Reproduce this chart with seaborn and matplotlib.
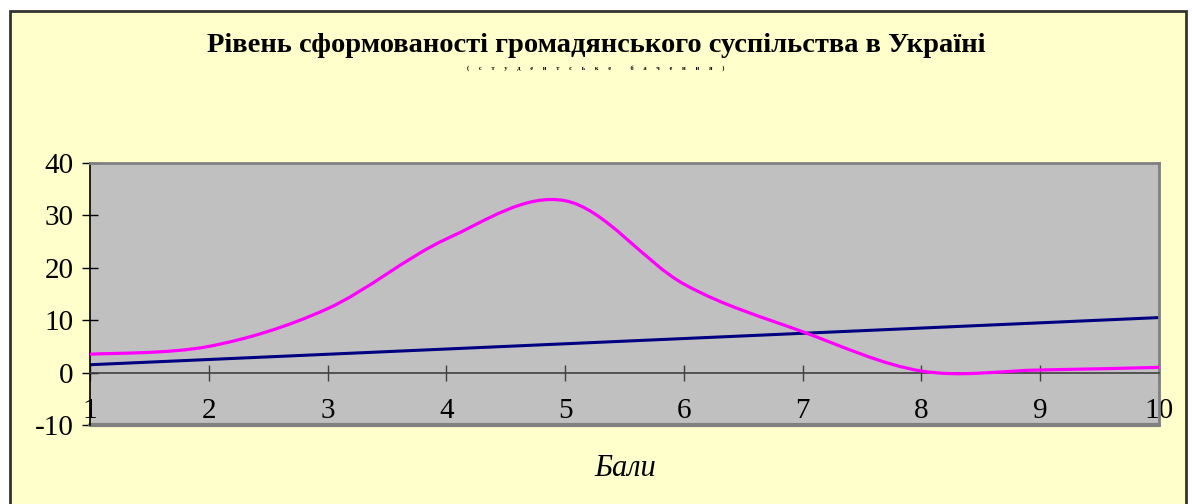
import numpy as np
import pandas as pd
import seaborn as sns
import matplotlib.pyplot as plt
from matplotlib.path import Path
from matplotlib.patches import PathPatch, Rectangle

# data
bali = [1, 2, 3, 4, 5, 6, 7, 8, 9, 10]
riven = [3.5, 5.0, 12.2, 25.5, 32.8, 16.9, 7.8, 0.3, 0.5, 1.0]
trend = [1.5, 2.5, 3.5, 4.5, 5.5, 6.5, 7.5, 8.5, 9.5, 10.5]
y_ticks = [-10, 0, 10, 20, 30, 40]

title = "Рівень сформованості громадянського суспільства в Україні"
subtitle = "(      с      т      у      д      е      н      т      с      ь      к      е            б      а      ч      е      н      н      я      )"
x_label = "Бали"

df = pd.DataFrame({"bali": bali, "riven": riven, "trend": trend})

sns.set_style("white")
plt.rcParams["font.family"] = ["Liberation Serif", "DejaVu Serif"]
plt.rcParams["text.color"] = "black"
plt.rcParams["xtick.color"] = "black"
plt.rcParams["ytick.color"] = "black"
plt.rcParams["axes.unicode_minus"] = False

fig = plt.figure(figsize=(11.92, 5.04), dpi=100, facecolor="white")

# yellow chart area with dark frame
fig.patches.append(Rectangle((10 / 1192, -0.05), 1176 / 1192, 1 - 11 / 504 + 0.05,
                             transform=fig.transFigure, facecolor="#FFFFCC",
                             edgecolor="#333333", lw=2, zorder=-5))

ax = fig.add_axes([90 / 1192, 1 - 425 / 504, 1069 / 1192, 262 / 504])
ax.set_zorder(2)
ax.set_facecolor("#C0C0C0")

sns.lineplot(data=df, x="bali", y="trend", ax=ax, color="#000080", lw=2.2)


def smooth_path(xs, ys):
    # Excel style smoothed line: cubic bezier through every point
    pts = np.column_stack([xs, ys]).astype(float)
    ext = np.vstack([pts[0], pts, pts[-1]])
    verts = [pts[0]]
    codes = [Path.MOVETO]
    for i in range(len(pts) - 1):
        p0, p1, p2, p3 = ext[i], ext[i + 1], ext[i + 2], ext[i + 3]
        verts += [p1 + (p2 - p0) / 6, p2 - (p3 - p1) / 6, p2]
        codes += [Path.CURVE4] * 3
    return Path(verts, codes)


ax.add_patch(PathPatch(smooth_path(df["bali"], df["riven"]), facecolor="none",
                       edgecolor="#FF00FF", lw=2.3, zorder=3))

ax.set_xlim(1, 10)
ax.set_ylim(-10, 40)
ax.set_xticks(bali)
ax.set_yticks(y_ticks)

for side in ["top", "right"]:
    ax.spines[side].set_color("#808080")
    ax.spines[side].set_linewidth(2)
ax.spines["left"].set_color("black")
ax.spines["left"].set_linewidth(1.2)
ax.spines["bottom"].set_position(("data", 0))
ax.spines["bottom"].set_color("#404040")
ax.spines["bottom"].set_linewidth(1.2)
# gray frame along the bottom of the plot area
ax.axhline(-10, color="#808080", lw=3, zorder=1, clip_on=False)

ax.tick_params(axis="y", direction="inout", length=12, width=1, pad=6, labelsize=21,
               left=True, color="black")
ax.tick_params(axis="x", direction="inout", length=11, width=1, pad=13, labelsize=21,
               bottom=True, color="#404040")

ax.set_xlabel("")
ax.set_ylabel("")

fig.text(0.5, 1 - 45 / 504, title, ha="center", va="center", fontsize=20.5,
         fontweight="bold")
fig.text(0.5, 1 - 68 / 504, subtitle, ha="center", va="center", fontsize=4.5,
         fontweight="bold")
fig.text(625 / 1192, 1 - 468 / 504, x_label, ha="center", va="center", fontsize=22,
         fontstyle="italic")

fig.savefig("out.png", dpi=100, facecolor="white")
